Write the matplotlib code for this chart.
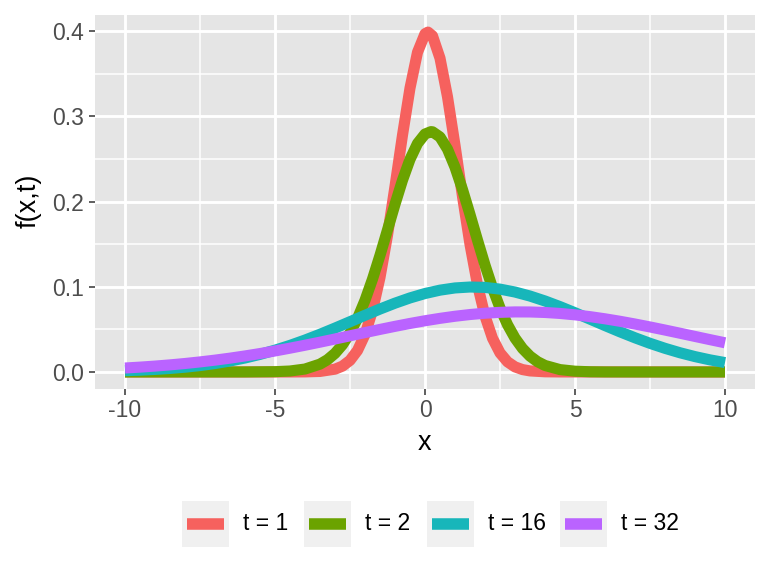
import matplotlib
matplotlib.use('Agg')
import matplotlib.pyplot as plt
from matplotlib.lines import Line2D
from matplotlib.patches import Rectangle

plt.rcParams['font.family'] = ['Liberation Sans', 'DejaVu Sans']

x_t1 = [-10, -5, -4.5, -4, -3.5, -3, -2.75, -2.5, -2.25, -2, -1.75, -1.5, -1.25,
        -1, -0.75, -0.5, -0.25, 0, 0.1, 0.25, 0.5, 0.75, 1, 1.25, 1.5, 1.75, 2,
        2.25, 2.5, 2.75, 3, 3.25, 3.5, 4, 4.5, 5, 10]
y_t1 = [0, 0, 0.00001, 0.00009, 0.00061, 0.00327, 0.00687, 0.01358, 0.02522,
        0.04398, 0.07208, 0.11092, 0.16038, 0.21785, 0.27798, 0.33322, 0.37524,
        0.39695, 0.39894, 0.39448, 0.36827, 0.32297, 0.26609, 0.20594, 0.14973,
        0.10226, 0.06562, 0.03955, 0.02239, 0.01191, 0.00595, 0.00279, 0.00123,
        0.00020, 0.00002, 0, 0]

x_t2 = [-10, -6, -5, -4.5, -4, -3.5, -3.25, -3, -2.75, -2.5, -2.25, -2, -1.75,
        -1.5, -1.25, -1, -0.75, -0.5, -0.25, 0, 0.2, 0.25, 0.5, 0.75, 1, 1.25,
        1.5, 1.75, 2, 2.25, 2.5, 2.75, 3, 3.25, 3.5, 3.75, 4, 4.5, 5, 5.5, 6, 7, 10]
y_t2 = [0, 0.00002, 0.00033, 0.00113, 0.00343, 0.00921, 0.01439, 0.02181,
        0.03203, 0.04559, 0.06291, 0.08412, 0.10903, 0.13697, 0.16677, 0.19681,
        0.22511, 0.24957, 0.26817, 0.27928, 0.28209, 0.28191, 0.27581, 0.26154,
        0.24038, 0.21413, 0.18488, 0.15472, 0.12549, 0.09865, 0.07517, 0.05551,
        0.03973, 0.02757, 0.01854, 0.01208, 0.00763, 0.00277, 0.00089, 0.00025,
        0.00006, 0, 0]

x_wide = [-10, -9.5, -9, -8.5, -8, -7.5, -7, -6.5, -6, -5.5, -5, -4.5, -4, -3.5,
          -3, -2.5, -2, -1.5, -1, -0.5, 0, 0.5, 1, 1.5, 2, 2.5, 3, 3.5, 4, 4.5,
          5, 5.5, 6, 6.5, 7, 7.5, 8, 8.5, 9, 9.5, 10]
y_t16 = [0.00149, 0.00212, 0.00298, 0.00412, 0.00560, 0.00750, 0.00989, 0.01284,
         0.01640, 0.02064, 0.02557, 0.03118, 0.03743, 0.04424, 0.05149, 0.05898,
         0.06652, 0.07386, 0.08074, 0.08690, 0.09207, 0.09604, 0.09862, 0.09971,
         0.09924, 0.09724, 0.09381, 0.08910, 0.08331, 0.07669, 0.06950, 0.06201,
         0.05446, 0.04710, 0.04010, 0.03361, 0.02773, 0.02253, 0.01802, 0.01419,
         0.01100]
y_t32 = [0.00463, 0.00567, 0.00689, 0.00831, 0.00993, 0.01179, 0.01388, 0.01621,
         0.01879, 0.02161, 0.02466, 0.02793, 0.03137, 0.03497, 0.03868, 0.04245,
         0.04622, 0.04994, 0.05353, 0.05694, 0.06010, 0.06293, 0.06539, 0.06741,
         0.06895, 0.06999, 0.07048, 0.07042, 0.06982, 0.06869, 0.06704, 0.06493,
         0.06239, 0.05949, 0.05628, 0.05283, 0.04920, 0.04547, 0.04169, 0.03793,
         0.03424]

labels = ['t = 1', 't = 2', 't = 16', 't = 32']
colors = ['#F6615E', '#6BA300', '#17B6BA', '#BA63FF']
series = [(x_t1, y_t1), (x_t2, y_t2), (x_wide, y_t16), (x_wide, y_t32)]

W, H = 768, 576
fig = plt.figure(figsize=(W / 100, H / 100), dpi=100)
ax = fig.add_axes([95 / W, 1 - 389 / H, 660 / W, 374 / H])
ax.set_facecolor('#E5E5E5')
for s in ax.spines.values():
    s.set_visible(False)

for (xs, ys), c in zip(series, colors):
    ax.plot(xs, ys, color=c, lw=8, solid_capstyle='butt', solid_joinstyle='round')

ax.set_xlim(-11, 11)
ax.set_ylim(-0.02, 0.419)
ax.set_xticks([-10, -5, 0, 5, 10])
ax.set_xticklabels(['-10', '-5', '0', '5', '10'])
ax.set_yticks([0, 0.1, 0.2, 0.3, 0.4])
ax.set_yticklabels(['0.0', '0.1', '0.2', '0.3', '0.4'])
ax.set_xticks([-7.5, -2.5, 2.5, 7.5], minor=True)
ax.set_yticks([0.05, 0.15, 0.25, 0.35], minor=True)
ax.grid(which='major', color='white', lw=2.1)
ax.grid(which='minor', color='white', lw=1.1)
ax.set_axisbelow(True)
ax.tick_params(which='major', length=4.2, width=1.1, color='#333333',
               labelcolor='#4D4D4D', labelsize=16.5)
ax.tick_params(axis='x', pad=3)
ax.tick_params(axis='y', pad=3.5)
ax.tick_params(which='minor', length=0)

ax.set_xlabel('x', fontsize=19.5, color='black')
ax.set_ylabel('f(x,t)', fontsize=19.5, color='black')
ax.xaxis.label.set_va('center')
ax.yaxis.label.set_va('center')
ax.xaxis.set_label_coords(0.5, (389 - 442.5) / 374)
ax.yaxis.set_label_coords((28.5 - 95) / 660, (389 - 200.8) / 374)

# legend drawn by hand below the panel, ggplot style
box_x = [182, 304, 427, 560]
text_x = [243, 365, 488, 621]
for bx, tx, lab, c in zip(box_x, text_x, labels, colors):
    fig.add_artist(Rectangle((bx / W, 1 - 547 / H), 47 / W, 46 / H,
                             transform=fig.transFigure, facecolor='#F0F0F0',
                             edgecolor='none'))
    fig.add_artist(Line2D([(bx + 5) / W, (bx + 42) / W], [1 - 524 / H, 1 - 524 / H],
                          transform=fig.transFigure, color=c, lw=8.3,
                          solid_capstyle='butt'))
    fig.text(tx / W, 1 - 524 / H, lab, fontsize=16.5, color='black',
             ha='left', va='center')

fig.savefig('out.png', dpi=100)
